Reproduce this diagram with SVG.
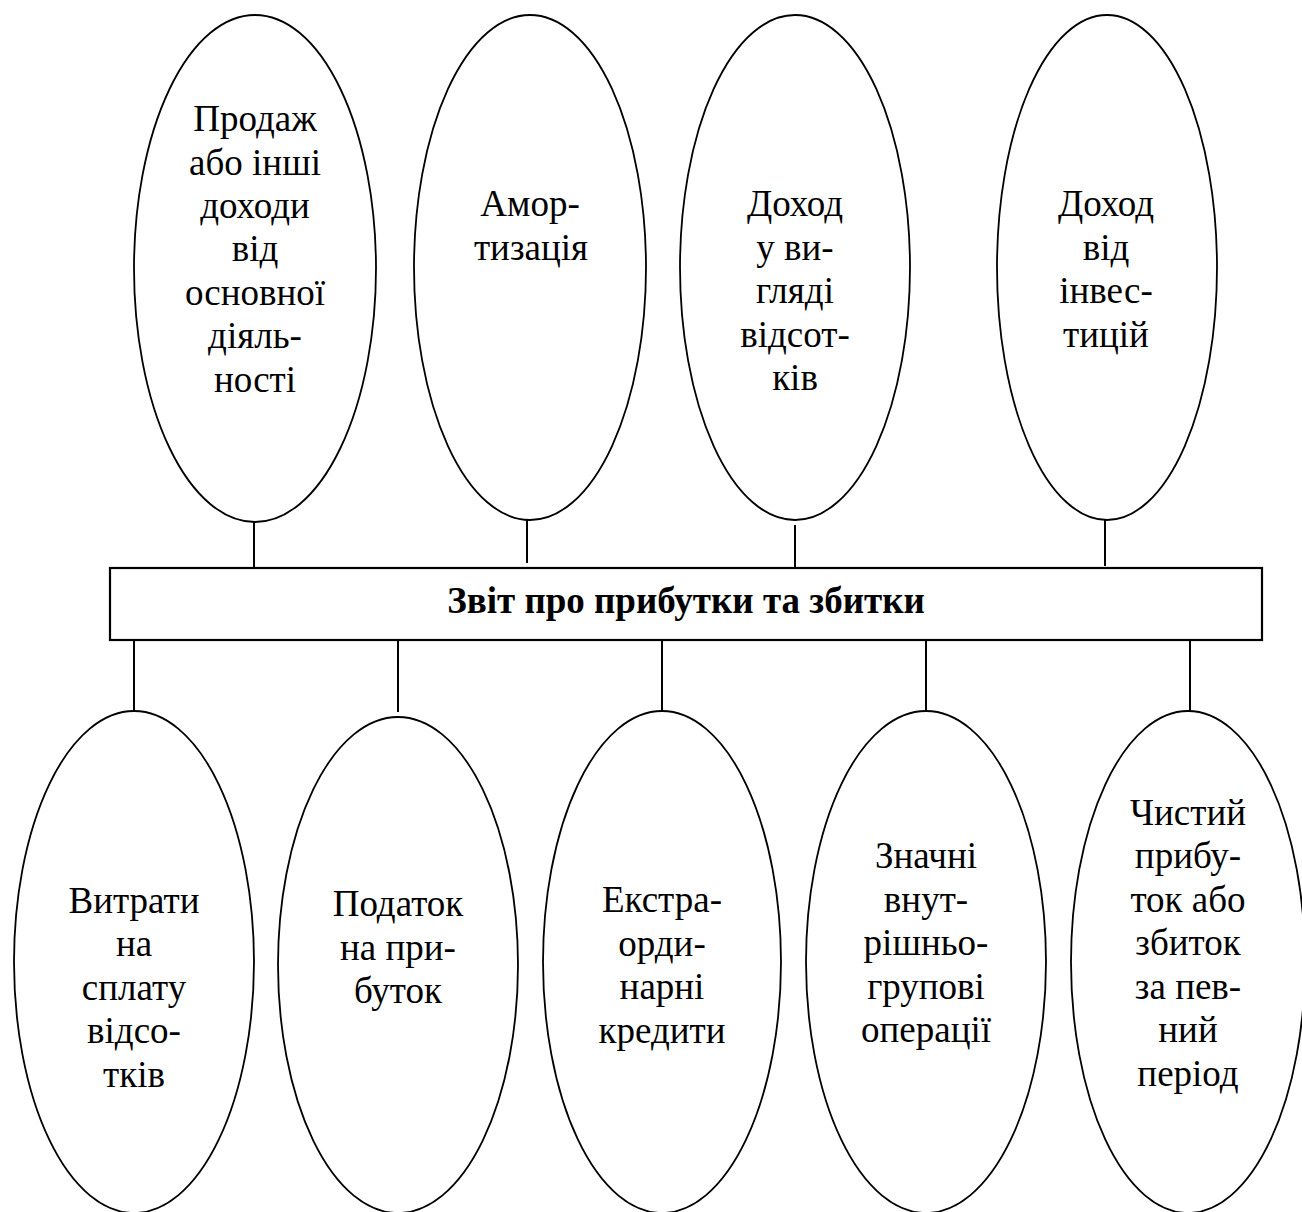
<svg xmlns="http://www.w3.org/2000/svg" width="1302" height="1212" viewBox="0 0 1302 1212">
  <style>
    .shape { fill: #ffffff; stroke: #000000; stroke-width: 1.8; }
    .box { fill: #ffffff; stroke: #000000; stroke-width: 2.2; }
    .link { stroke: #000000; stroke-width: 2; fill: none; }
  </style>
  <rect width="1302" height="1212" fill="#ffffff"/>

  <!-- connectors between the report box and the items -->
  <g id="connectors">
    <line class="link" x1="254" y1="522" x2="254" y2="568"/>
    <line class="link" x1="527" y1="516" x2="527" y2="563"/>
    <line class="link" x1="795" y1="525" x2="795" y2="573"/>
    <line class="link" x1="1105" y1="518" x2="1105" y2="566"/>
    <line class="link" x1="134" y1="640" x2="134" y2="711"/>
    <line class="link" x1="398" y1="640" x2="398" y2="712"/>
    <line class="link" x1="662" y1="640" x2="662" y2="711"/>
    <line class="link" x1="926" y1="640" x2="926" y2="711"/>
    <line class="link" x1="1190" y1="640" x2="1190" y2="711"/>
  </g>

  <!-- central box -->
  <g id="report">
    <rect class="box" x="110" y="568" width="1152" height="72"/>
    <text x="686" y="613" text-anchor="middle" style="font-family:'Liberation Serif','Tinos',serif;font-size:37px;font-weight:700;fill:#000">Звіт про прибутки та збитки</text>
  </g>

  <!-- upper items -->
  <g id="sales">
    <ellipse class="shape" cx="255" cy="268.5" rx="121" ry="253.5"/>
    <text x="255" y="131" text-anchor="middle" style="font-family:'Liberation Serif','Tinos',serif;font-size:37px;font-weight:400;fill:#000">Продаж</text>
    <text x="255" y="175" text-anchor="middle" style="font-family:'Liberation Serif','Tinos',serif;font-size:37px;font-weight:400;fill:#000">або інші</text>
    <text x="255" y="218" text-anchor="middle" style="font-family:'Liberation Serif','Tinos',serif;font-size:37px;font-weight:400;fill:#000">доходи</text>
    <text x="255" y="261" text-anchor="middle" style="font-family:'Liberation Serif','Tinos',serif;font-size:37px;font-weight:400;fill:#000">від</text>
    <text x="255" y="305" text-anchor="middle" style="font-family:'Liberation Serif','Tinos',serif;font-size:37px;font-weight:400;fill:#000">основної</text>
    <text x="255" y="348" text-anchor="middle" style="font-family:'Liberation Serif','Tinos',serif;font-size:37px;font-weight:400;fill:#000">діяль-</text>
    <text x="255" y="392" text-anchor="middle" style="font-family:'Liberation Serif','Tinos',serif;font-size:37px;font-weight:400;fill:#000">ності</text>
  </g>
  <g id="amortization">
    <ellipse class="shape" cx="530" cy="267.5" rx="116" ry="252.5"/>
    <text x="530" y="216" text-anchor="middle" style="font-family:'Liberation Serif','Tinos',serif;font-size:37px;font-weight:400;fill:#000">Амор-</text>
    <text x="531" y="260" text-anchor="middle" style="font-family:'Liberation Serif','Tinos',serif;font-size:37px;font-weight:400;fill:#000">тизація</text>
  </g>
  <g id="interest-income">
    <ellipse class="shape" cx="795" cy="267.5" rx="115" ry="252.5"/>
    <text x="795" y="216" text-anchor="middle" style="font-family:'Liberation Serif','Tinos',serif;font-size:37px;font-weight:400;fill:#000">Доход</text>
    <text x="795" y="260" text-anchor="middle" style="font-family:'Liberation Serif','Tinos',serif;font-size:37px;font-weight:400;fill:#000">у ви-</text>
    <text x="795" y="303" text-anchor="middle" style="font-family:'Liberation Serif','Tinos',serif;font-size:37px;font-weight:400;fill:#000">гляді</text>
    <text x="795" y="347" text-anchor="middle" style="font-family:'Liberation Serif','Tinos',serif;font-size:37px;font-weight:400;fill:#000">відсот-</text>
    <text x="795" y="390" text-anchor="middle" style="font-family:'Liberation Serif','Tinos',serif;font-size:37px;font-weight:400;fill:#000">ків</text>
  </g>
  <g id="investment-income">
    <ellipse class="shape" cx="1107" cy="267.5" rx="110" ry="252.5"/>
    <text x="1106" y="216" text-anchor="middle" style="font-family:'Liberation Serif','Tinos',serif;font-size:37px;font-weight:400;fill:#000">Доход</text>
    <text x="1106" y="260" text-anchor="middle" style="font-family:'Liberation Serif','Tinos',serif;font-size:37px;font-weight:400;fill:#000">від</text>
    <text x="1106" y="303" text-anchor="middle" style="font-family:'Liberation Serif','Tinos',serif;font-size:37px;font-weight:400;fill:#000">інвес-</text>
    <text x="1106" y="347" text-anchor="middle" style="font-family:'Liberation Serif','Tinos',serif;font-size:37px;font-weight:400;fill:#000">тицій</text>
  </g>

  <!-- lower items -->
  <g id="interest-expense">
    <ellipse class="shape" cx="134" cy="962" rx="120" ry="251"/>
    <text x="134" y="913" text-anchor="middle" style="font-family:'Liberation Serif','Tinos',serif;font-size:37px;font-weight:400;fill:#000">Витрати</text>
    <text x="134" y="956" text-anchor="middle" style="font-family:'Liberation Serif','Tinos',serif;font-size:37px;font-weight:400;fill:#000">на</text>
    <text x="134" y="1000" text-anchor="middle" style="font-family:'Liberation Serif','Tinos',serif;font-size:37px;font-weight:400;fill:#000">сплату</text>
    <text x="134" y="1043" text-anchor="middle" style="font-family:'Liberation Serif','Tinos',serif;font-size:37px;font-weight:400;fill:#000">відсо-</text>
    <text x="134" y="1087" text-anchor="middle" style="font-family:'Liberation Serif','Tinos',serif;font-size:37px;font-weight:400;fill:#000">тків</text>
  </g>
  <g id="income-tax">
    <ellipse class="shape" cx="398" cy="965" rx="120" ry="248"/>
    <text x="398" y="916" text-anchor="middle" style="font-family:'Liberation Serif','Tinos',serif;font-size:37px;font-weight:400;fill:#000">Податок</text>
    <text x="398" y="960" text-anchor="middle" style="font-family:'Liberation Serif','Tinos',serif;font-size:37px;font-weight:400;fill:#000">на при-</text>
    <text x="398" y="1003" text-anchor="middle" style="font-family:'Liberation Serif','Tinos',serif;font-size:37px;font-weight:400;fill:#000">буток</text>
  </g>
  <g id="extraordinary-credits">
    <ellipse class="shape" cx="662" cy="962" rx="119" ry="251"/>
    <text x="662" y="912" text-anchor="middle" style="font-family:'Liberation Serif','Tinos',serif;font-size:37px;font-weight:400;fill:#000">Екстра-</text>
    <text x="662" y="956" text-anchor="middle" style="font-family:'Liberation Serif','Tinos',serif;font-size:37px;font-weight:400;fill:#000">орди-</text>
    <text x="662" y="999" text-anchor="middle" style="font-family:'Liberation Serif','Tinos',serif;font-size:37px;font-weight:400;fill:#000">нарні</text>
    <text x="662" y="1043" text-anchor="middle" style="font-family:'Liberation Serif','Tinos',serif;font-size:37px;font-weight:400;fill:#000">кредити</text>
  </g>
  <g id="intragroup">
    <ellipse class="shape" cx="926" cy="962" rx="120" ry="251"/>
    <text x="926" y="868" text-anchor="middle" style="font-family:'Liberation Serif','Tinos',serif;font-size:37px;font-weight:400;fill:#000">Значні</text>
    <text x="926" y="912" text-anchor="middle" style="font-family:'Liberation Serif','Tinos',serif;font-size:37px;font-weight:400;fill:#000">внут-</text>
    <text x="926" y="955" text-anchor="middle" style="font-family:'Liberation Serif','Tinos',serif;font-size:37px;font-weight:400;fill:#000">рішньо-</text>
    <text x="926" y="999" text-anchor="middle" style="font-family:'Liberation Serif','Tinos',serif;font-size:37px;font-weight:400;fill:#000">групові</text>
    <text x="926" y="1042" text-anchor="middle" style="font-family:'Liberation Serif','Tinos',serif;font-size:37px;font-weight:400;fill:#000">операції</text>
  </g>
  <g id="net-result">
    <ellipse class="shape" cx="1188" cy="962" rx="117" ry="251"/>
    <text x="1188" y="825" text-anchor="middle" style="font-family:'Liberation Serif','Tinos',serif;font-size:37px;font-weight:400;fill:#000">Чистий</text>
    <text x="1188" y="868" text-anchor="middle" style="font-family:'Liberation Serif','Tinos',serif;font-size:37px;font-weight:400;fill:#000">прибу-</text>
    <text x="1188" y="912" text-anchor="middle" style="font-family:'Liberation Serif','Tinos',serif;font-size:37px;font-weight:400;fill:#000">ток або</text>
    <text x="1188" y="955" text-anchor="middle" style="font-family:'Liberation Serif','Tinos',serif;font-size:37px;font-weight:400;fill:#000">збиток</text>
    <text x="1188" y="999" text-anchor="middle" style="font-family:'Liberation Serif','Tinos',serif;font-size:37px;font-weight:400;fill:#000">за пев-</text>
    <text x="1188" y="1042" text-anchor="middle" style="font-family:'Liberation Serif','Tinos',serif;font-size:37px;font-weight:400;fill:#000">ний</text>
    <text x="1188" y="1086" text-anchor="middle" style="font-family:'Liberation Serif','Tinos',serif;font-size:37px;font-weight:400;fill:#000">період</text>
  </g>
</svg>
